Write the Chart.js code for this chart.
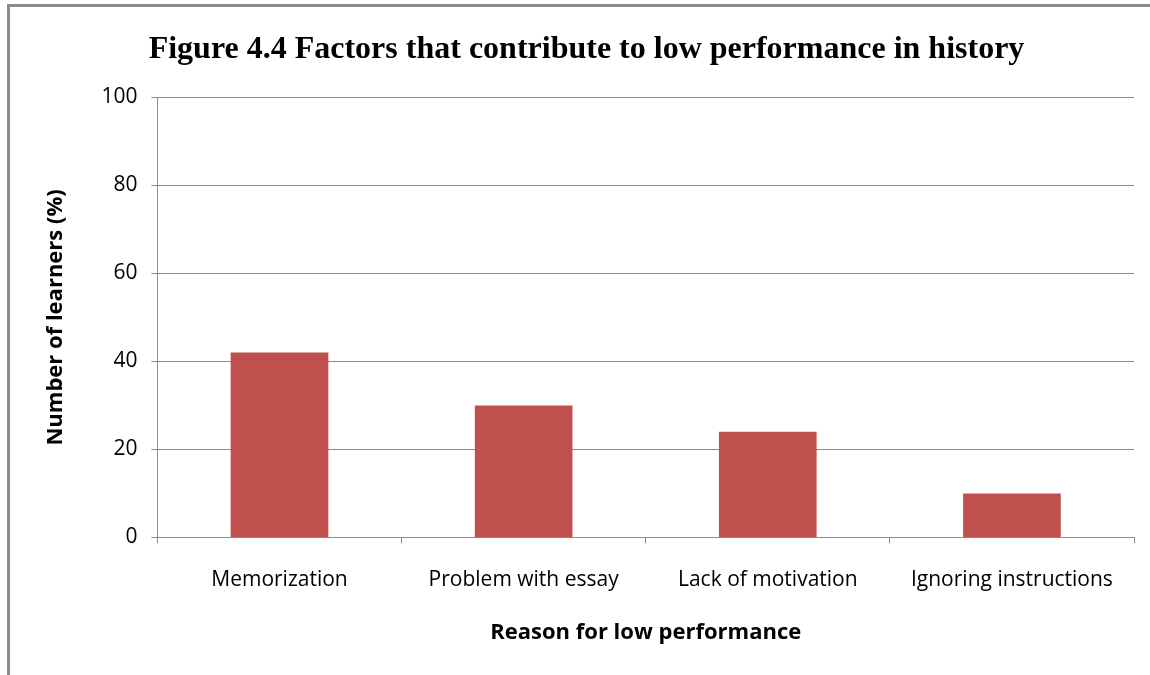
<!DOCTYPE html>
<html>
<head>
<meta charset="utf-8">
<script src="https://cdn.jsdelivr.net/npm/chart.js@4"></script>
<style>
  body { margin: 0; background: #fff; overflow: hidden; }
  #frame {
    position: absolute; left: 7px; top: 4px;
    width: 1160px; height: 690px;
    border-left: 3px solid #8c8c8c; border-top: 3px solid #8c8c8c;
  }
  #wrap { position: absolute; left: 0; top: 0; width: 1140px; height: 668px; }
</style>
</head>
<body>
<div id="frame"><div id="wrap"><canvas id="grafica"></canvas></div></div>
<script>
const categorias = ['Memorization', 'Problem with essay', 'Lack of motivation', 'Ignoring instructions'];
const valores = [42, 30, 24, 10];
const ticksY = [0, 20, 40, 60, 80, 100];

const fuenteEje = "'Open Sans', 'DejaVu Sans', sans-serif";

const ctx = document.getElementById('grafica').getContext('2d');
new Chart(ctx, {
  type: 'bar',
  data: {
    labels: categorias,
    datasets: [
      {
        label: 'Learners',
        data: valores,
        backgroundColor: '#C0504D',
        borderColor: '#C0504D',
        borderWidth: 0,
        categoryPercentage: 1,
        barPercentage: 0.4
      }
    ]
  },
  options: {
    responsive: true,
    maintainAspectRatio: false,
    animation: false,
    layout: {
      padding: { top: 16, right: 16, bottom: 25, left: 29 }
    },
    scales: {
      y: {
        min: 0,
        max: 100,
        afterBuildTicks: (axis) => { axis.ticks = ticksY.map(v => ({ value: v })); },
        grid: {
          color: '#8c8c8c',
          lineWidth: 1,
          tickLength: 6,
          drawTicks: true
        },
        border: { color: '#8c8c8c', width: 1 },
        ticks: {
          color: '#000',
          padding: 14,
          font: { family: fuenteEje, size: 21 }
        },
        title: {
          display: true,
          text: 'Number of learners (%)',
          color: '#000',
          padding: { bottom: 18 },
          font: { family: fuenteEje, size: 22, weight: 'bold' }
        }
      },
      x: {
        grid: {
          offset: true,
          drawOnChartArea: false,
          color: '#8c8c8c',
          tickLength: 6
        },
        border: { color: '#8c8c8c', width: 1 },
        ticks: {
          color: '#000',
          padding: 24,
          maxRotation: 0,
          font: { family: fuenteEje, size: 21 }
        },
        title: {
          display: true,
          text: 'Reason for low performance',
          color: '#000',
          padding: { top: 3 },
          font: { family: fuenteEje, size: 22, weight: 'bold' }
        }
      }
    },
    plugins: {
      legend: { display: false },
      tooltip: { enabled: false },
      title: {
        display: true,
        text: 'Figure 4.4 Factors that contribute to low performance in history',
        color: '#000',
        padding: { top: 8, bottom: 28 },
        font: { family: "'Liberation Serif', 'Times New Roman', serif", size: 32, weight: 'bold' }
      }
    }
  }
});
</script>
</body>
</html>
